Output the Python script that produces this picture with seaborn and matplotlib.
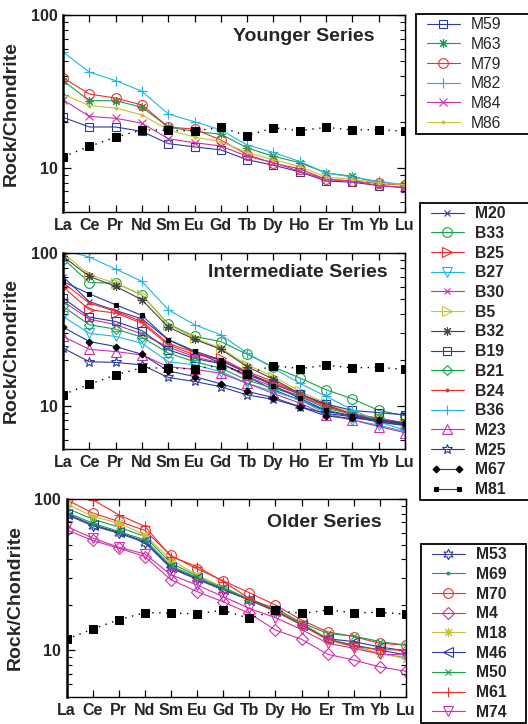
import matplotlib
matplotlib.use("Agg")
import matplotlib.pyplot as plt
import numpy as np
import pandas as pd
import seaborn as sns
from matplotlib.legend_handler import HandlerLine2D
from matplotlib.lines import Line2D
from matplotlib.ticker import NullFormatter

###############################################################################
# Data (rock / chondrite)
###############################################################################

elements = ['La', 'Ce', 'Pr', 'Nd', 'Sm', 'Eu', 'Gd', 'Tb', 'Dy', 'Ho',
            'Er', 'Tm', 'Yb', 'Lu']

# black squares, dotted line, drawn in every panel
ref_squares = [11.8, 13.8, 15.9, 17.7, 17.6, 17.4, 18.4, 16.2, 18.3, 17.5,
               18.4, 17.7, 17.8, 17.3]

younger = {
    'M59': [21.4, 18.5, 18.5, 17.3, 14.4, 13.7, 13.1, 11.3, 10.4, 9.4, 8.2, 8.05, 7.65, 7.4],
    'M63': [37.2, 27.5, 27.5, 24.9, 18.5, 17.3, 16.6, 13.5, 11.9, 10.8, 9.25, 8.8, 7.95, 7.75],
    'M79': [38.8, 30.4, 28.6, 25.8, 18.5, 17.9, 15.2, 12.2, 10.7, 9.85, 8.4, 8.2, 7.9, 7.7],
    'M82': [57.3, 42.3, 37.2, 31.7, 22.5, 20.0, 17.7, 14.1, 12.6, 11.0, 9.25, 8.7, 8.15, 7.75],
    'M84': [27.9, 21.7, 21.1, 19.6, 15.5, 14.6, 13.9, 11.9, 10.8, 9.5, 8.4, 8.2, 7.65, 7.45],
    'M86': [30.4, 25.5, 24.6, 22.2, 17.7, 15.9, 14.8, 12.6, 11.3, 10.2, 8.7, 8.4, 7.95, 7.75],
}

intermediate = {
    'M20': [70, 48, 42, 37, 27, 22.5, 19, 15.5, 12.7, 10.9, 9.2, 8.5, 7.8, 7.4],
    'B33': [92, 64, 63.5, 53, 34.3, 28.4, 26.3, 21.7, 17.9, 15.2, 12.7, 11.1, 9.3, 8.6],
    'B25': [60, 42.5, 40.4, 34.7, 25, 21.5, 20.4, 16.7, 14.4, 12.0, 10.1, 8.9, 8.25, 7.7],
    'B27': [38.4, 29.8, 28.4, 25.6, 19.4, 18.5, 16.7, 14.0, 12.4, 10.9, 8.9, 8.05, 7.45, 6.75],
    'B30': [48.2, 36.9, 33.9, 29.5, 24.2, 20.9, 19.0, 15.5, 13.3, 11.6, 9.85, 8.9, 8.05, 7.45],
    'B5': [100, 72, 63.5, 53.2, 33.9, 27.7, 23.8, 18.5, 15.5, 12.4, 10.4, 8.9, 8.25, 7.65],
    'B32': [95, 70.3, 60.4, 49.4, 32.7, 27.2, 23.4, 18.0, 14.9, 12.0, 10.1, 8.7, 8.05, 7.55],
    'B19': [50.7, 38, 35.6, 31, 23.2, 20.4, 18.8, 15.9, 13.8, 11.9, 10.25, 9.3, 9.0, 8.7],
    'B21': [44.7, 33.9, 31.7, 28.1, 22.1, 19.4, 17.6, 14.7, 13.0, 11.5, 9.6, 8.8, 8.25, 7.7],
    'B24': [64, 47, 41.4, 35.6, 25.6, 22.3, 19.7, 16.3, 14.0, 11.9, 9.95, 8.8, 8.2, 7.65],
    'B36': [105, 94, 78.5, 65.2, 42.5, 33.9, 29.1, 22.1, 17.6, 14.0, 11.5, 9.4, 7.85, 6.9],
    'M23': [28.4, 23.4, 22.6, 21.5, 18.0, 17.3, 16.3, 14.0, 12.0, 10.4, 8.7, 8.05, 7.3, 6.65],
    'M25': [23.8, 19.4, 19.2, 18.5, 15.3, 14.4, 13.3, 11.75, 11.0, 9.85, 8.9, 8.45, 7.85, 7.45],
    'M67': [32.7, 26.3, 24.4, 21.7, 16.9, 15.5, 13.9, 12.4, 11.3, 9.85, 8.55, 8.25, 8.05, 7.7],
    'M81': [65, 54, 45.8, 39, 27.1, 22.8, 19.9, 16.5, 13.5, 11.2, 9.3, 8.6, 8.0, 7.6],
}

older = {
    'M53': [78.7, 66.5, 59.4, 51.5, 34.8, 29.4, 25.0, 21.5, 18.0, 14.7, 11.8, 10.8, 10.0, 9.3],
    'M69': [87, 73.6, 65.2, 56.5, 37.6, 31.0, 26.1, 21.7, 18.4, 15.0, 11.9, 10.6, 9.5, 8.9],
    'M70': [99, 80.7, 71.1, 62, 42.3, 34.5, 28.8, 24.0, 19.9, 15.8, 13.2, 12.3, 11.1, 10.8],
    'M4': [62.6, 53.2, 47.3, 41.6, 29.2, 24.4, 20.9, 17.5, 13.6, 11.8, 9.4, 8.6, 7.75, 7.25],
    'M18': [93, 76.7, 69.3, 58, 39.5, 31.5, 25.7, 21.5, 18.0, 14.7, 11.6, 10.5, 9.5, 8.8],
    'M46': [80, 67.6, 60.1, 52.4, 35.4, 29.9, 25.3, 21.5, 18.2, 14.7, 11.9, 11.4, 10.5, 9.9],
    'M50': [81.5, 69.3, 61, 53.7, 36.1, 30.3, 25.7, 21.7, 18.9, 15.2, 12.9, 12.4, 11.4, 10.8],
    'M61': [115, 99, 78.7, 65.9, 41.6, 35.7, 28.4, 22.0, 18.4, 14.7, 11.8, 10.6, 10.1, 10.0],
    'M74': [65.9, 55.1, 48, 43.3, 31.5, 27, 22.6, 18.9, 16.4, 13.7, 11.1, 10.3, 9.4, 9.3],
}

###############################################################################
# Styles
###############################################################################

NAVY = '#2e3a9e'
GREEN = '#17a04a'
RED = '#ee2d2d'
CYAN = '#22b4e4'
MAGENTA = '#cf2fa6'
YELLOW = '#c8c234'
GRAY = '#444444'
AST = (8, 2, 0)   # asterisk
HEX = (6, 1, 0)   # six pointed star

# name: (line colour, marker, size, filled, marker colour)
styles = {
    'M59': (NAVY, 's', 6.3, False, None),
    'M63': (GREEN, AST, 6.5, False, None),
    'M79': (RED, 'o', 7, False, None),
    'M82': (CYAN, '+', 7.5, False, None),
    'M84': (MAGENTA, 'x', 5.5, False, None),
    'M86': (YELLOW, '.', 4, True, None),
    'M20': (NAVY, 'x', 5, False, None),
    'B33': (GREEN, 'o', 7, False, None),
    'B25': (RED, '>', 7, False, None),
    'B27': (CYAN, 'v', 7, False, None),
    'B30': (MAGENTA, 'x', 4.5, False, None),
    'B5': (YELLOW, '>', 7, False, None),
    'B32': (GRAY, AST, 6.5, False, None),
    'B19': (NAVY, 's', 6.3, False, None),
    'B21': (GREEN, 'D', 5.5, False, None),
    'B24': (RED, '.', 4, True, None),
    'B36': (CYAN, '+', 7.5, False, None),
    'M23': (MAGENTA, '^', 7, False, None),
    'M25': (NAVY, '*', 7.5, False, None),
    'M67': (NAVY, 'D', 3.5, True, 'black'),
    'M81': (NAVY, 's', 3, True, 'black'),
    'M53': (NAVY, HEX, 7.5, False, None),
    'M69': (GREEN, '.', 4, True, None),
    'M70': (RED, 'o', 7, False, None),
    'M4': (MAGENTA, 'D', 5.8, False, None),
    'M18': (YELLOW, AST, 6.5, False, None),
    'M46': (NAVY, '<', 7, False, None),
    'M50': (GREEN, 'x', 5, False, None),
    'M61': (RED, '+', 7.5, False, None),
    'M74': (MAGENTA, 'v', 7, False, None),
}

sns.set_theme(style='ticks')
plt.rcParams['font.family'] = ['Liberation Sans', 'DejaVu Sans']
plt.rcParams['font.weight'] = 'bold'

fig = plt.figure(figsize=(5.28, 7.24), dpi=100)
W, H = 528, 724
pos = np.arange(len(elements))


def draw_panel(ax, series, title, title_xy, ybottom):
    handles = []
    for name, vals in series.items():
        color, marker, ms, filled, mcol = styles[name]
        mcol = mcol or color
        df = pd.DataFrame({'pos': pos, 'val': vals})
        sns.lineplot(data=df, x='pos', y='val', ax=ax, legend=False,
                     color=color, linewidth=0.8, label=name,
                     marker=marker, markersize=ms,
                     markerfacecolor=mcol if filled else 'none',
                     markeredgecolor=mcol, markeredgewidth=0.8)
        handles.append(ax.lines[-1])

    df_ref = pd.DataFrame({'pos': pos, 'val': ref_squares})
    sns.lineplot(data=df_ref, x='pos', y='val', ax=ax, legend=False,
                 color='black', linewidth=1.0,
                 marker='s', markersize=5.2, markerfacecolor='black',
                 markeredgecolor='black', zorder=5)
    ax.lines[-1].set_dashes((1, 4))

    ax.set_yscale('log')
    ax.set_xlim(0, len(elements) - 1)
    ax.set_ylim(ybottom, 100)
    ax.set_xticks(pos, elements)
    ax.set_yticks([10, 100], ['10', '100'])
    ax.set_yticks([6, 7, 8, 9, 20, 30, 40, 50, 60, 70, 80, 90], minor=True)
    ax.yaxis.set_minor_formatter(NullFormatter())
    ax.tick_params(axis='both', which='both', direction='in', top=True,
                   right=True, labelsize=11.5, pad=4, color='black')
    ax.tick_params(axis='y', which='major', length=6, width=0.9)
    ax.tick_params(axis='y', which='minor', length=3.5, width=0.8)
    ax.tick_params(axis='x', which='major', length=5, width=0.9)
    for lbl in ax.get_xticklabels() + ax.get_yticklabels():
        lbl.set_fontweight('bold')
    for s in ax.spines.values():
        s.set_linewidth(1.0)
        s.set_color('black')
    ax.spines['left'].set_linewidth(1.8)
    ax.set_xlabel('')
    ax.set_ylabel('Rock/Chondrite', fontsize=14, fontweight='bold')
    ax.yaxis.set_label_coords(-0.125, 0.5)
    ax.text(title_xy[0], title_xy[1], title, transform=ax.transAxes,
            ha='right', va='center', fontsize=14, fontweight='bold')
    return handles


def add_legend(handles, left, top, right, weight):
    hmap = {Line2D: HandlerLine2D(xpad=0.5)}
    for h in handles:
        if h.get_label() in ('M67', 'M81'):
            hmap[h] = HandlerLine2D(numpoints=2, xpad=0.5)
    # anchor box of zero height at the top edge, expanded to the given width
    leg = fig.legend(handles=handles, loc='upper left',
                     bbox_to_anchor=(left / W, 1 - top / H,
                                     (right - left) / W, 0),
                     mode='expand',
                     borderaxespad=0, frameon=True, fancybox=False,
                     edgecolor='black', framealpha=1,
                     prop={'size': 11.3, 'weight': weight},
                     handlelength=2.6, handletextpad=0.7,
                     labelspacing=0.3, borderpad=0.2, handler_map=hmap)
    leg.get_frame().set_linewidth(1.3)
    return leg


ax1 = fig.add_axes([63 / W, 1 - 212.5 / H, 342 / W, 197.5 / H])
h1 = draw_panel(ax1, younger, 'Younger Series', (0.912, 0.889), 5.1)

ax2 = fig.add_axes([63 / W, 1 - 449 / H, 342 / W, 196 / H])
h2 = draw_panel(ax2, intermediate, 'Intermediate Series', (0.95, 0.903), 5.2)

ax3 = fig.add_axes([66.5 / W, 1 - 697 / H, 339.5 / W, 198 / H])
h3 = draw_panel(ax3, older, 'Older Series', (0.929, 0.879), 4.9)

add_legend(h1, 416, 14, 535, 'normal')
add_legend(h2, 420, 203, 535, 'bold')
add_legend(h3, 421, 544, 526, 'bold')

fig.savefig('out.png', dpi=100)
